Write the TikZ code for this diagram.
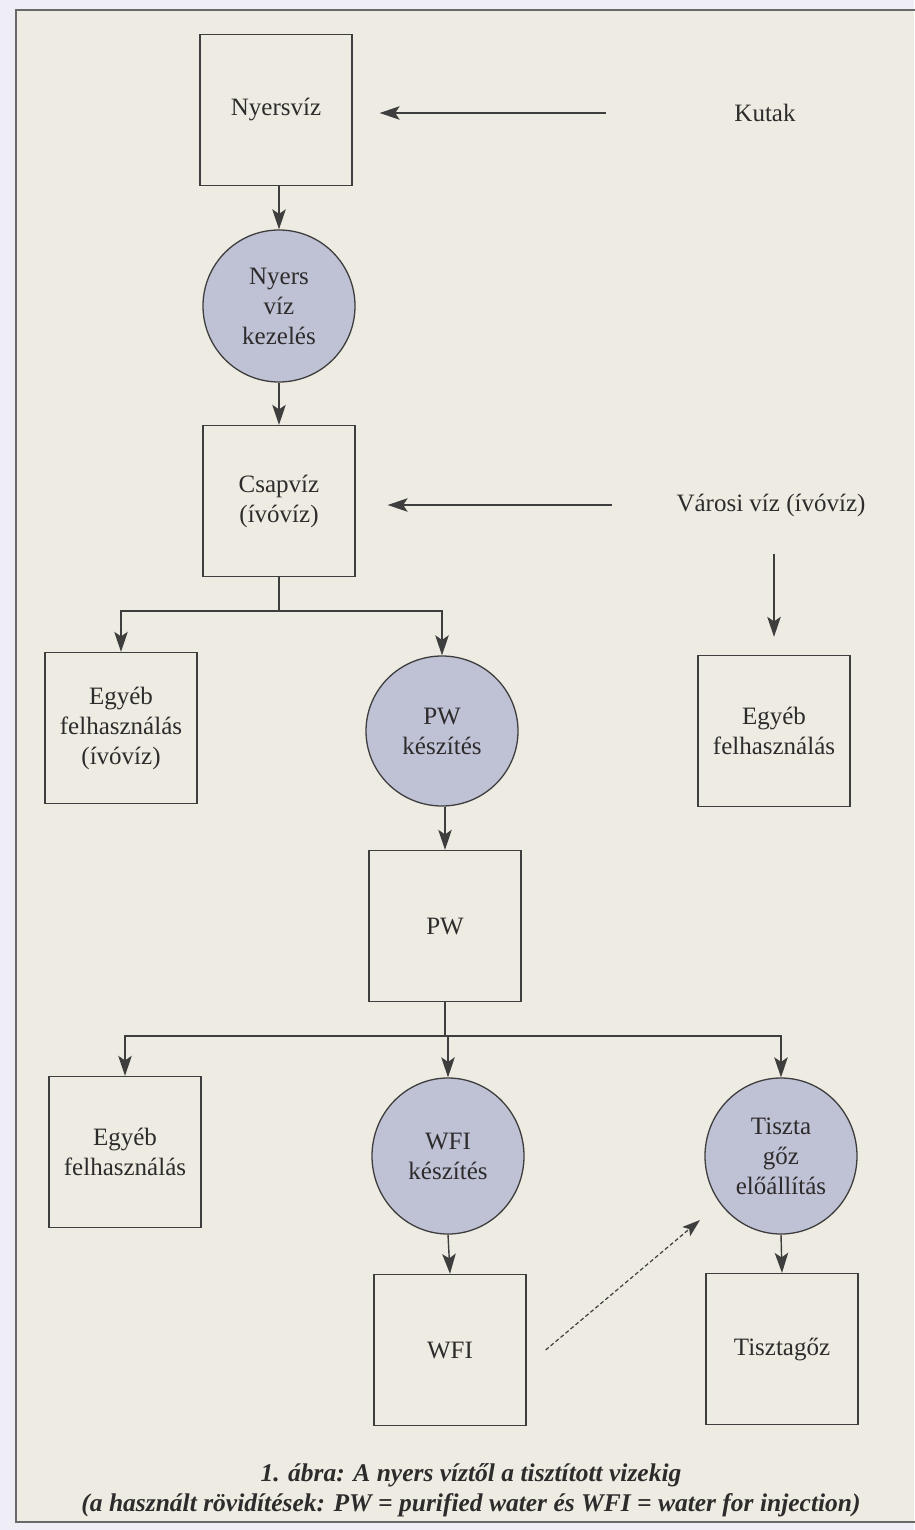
\documentclass[tikz,border=0pt]{standalone}
\usepackage{fontspec}
\setmainfont{Liberation Serif}
\usetikzlibrary{arrows.meta,shapes.geometric}
\definecolor{paper}{RGB}{238,236,226}
\definecolor{margin}{RGB}{239,238,246}
\definecolor{ink}{RGB}{62,62,62}
\definecolor{type}{RGB}{45,43,43}
\definecolor{disc}{RGB}{191,193,213}
\definecolor{rule}{RGB}{105,105,105}

\begin{document}
\begin{tikzpicture}[x=1pt,y=-1pt,
  every node/.style={font=\fontsize{25}{30}\selectfont, text=type},
  box/.style={draw=ink, line width=1.3pt, minimum width=152pt, minimum height=151pt,
    align=center, inner sep=0pt},
  proc/.style={ellipse, draw=ink, line width=1.3pt, fill=disc, minimum width=152pt,
    minimum height=152pt, align=center, inner sep=0pt},
  flow/.style={draw=ink, line width=1.4pt, -{Stealth[length=20pt,width=13.5pt,inset=4.5pt]}},
  link/.style={draw=ink, line width=1.4pt},
  hint/.style={draw=ink, line width=1.2pt, dash pattern=on 4pt off 2.5pt,
    -{Stealth[length=18pt,width=12pt,inset=4pt]}},
]
\useasboundingbox (0,0) rectangle (914,1530);

% page and frame
\fill[margin] (0,0) rectangle (914,1530);
\fill[paper] (16,10) rectangle (914,1522);
\draw[rule, line width=2pt] (930,10) -- (16,10) -- (16,1522) -- (930,1522);

% sources, treatment steps and uses
\node[box] (raw) at (276,110) {Nyersvíz};
\node (wells) at (765,113) {Kutak};
\node[proc] (treat) at (279,306) {Nyers\\víz\\kezelés};
\node[box] (tap) at (279,501) {Csapvíz\\(ívóvíz)};
\node (city) at (771,505) {Városi víz (ívóvíz)};
\node[box] (use1) at (121,728) {Egyéb\\felhasználás\\(ívóvíz)};
\node[proc, minimum height=150pt] (pwmake) at (442,731) {PW\\készítés};
\node[box] (use2) at (774,731) {Egyéb\\felhasználás};
\node[box] (pw) at (445,926) {PW};
\node[box] (use3) at (125,1152) {Egyéb\\felhasználás};
\node[proc, minimum height=156pt] (wfimake) at (448,1156) {WFI\\készítés};
\node[proc, minimum height=156pt] (steam) at (781,1156) {Tiszta\\gőz\\előállítás};
\node[box] (wfi) at (450,1350) {WFI};
\node[box] (puresteam) at (782,1349) {Tisztagőz};

% caption
\node[font=\bfseries\itshape\fontsize{25.5}{30}\selectfont, align=center] (caption)
  at (471,1490) {1. ábra: A nyers víztől a tisztított vizekig\\
  (a használt rövidítések: PW = purified water és WFI = water for injection)};

% connectors
\draw[flow, shorten <=125pt, shorten >=27pt] (wells.west) -- (raw.east |- wells.west);
\draw[flow] (treat.north |- raw.south) -- (treat.north);
\draw[flow] (treat.south) -- (tap.north);
\draw[flow, shorten <=61pt, shorten >=32pt] (city.west) -- (tap.east |- city.west);
\draw[flow, shorten <=34pt, shorten >=18pt] (use2.north |- city.south) -- (use2.north);

\draw[link] (tap.south) -- ++(0,34) coordinate (split1);
\draw[flow] (split1) -| (use1.north);
\draw[flow] (split1) -| (pwmake.north);
\draw[flow] (pw.north |- pwmake.south) -- (pw.north);

\draw[link] (pw.south) -- ++(0,34) coordinate (split2);
\draw[flow] (split2) -| (use3.north);
\draw[flow] (split2) -| (wfimake.north);
\draw[flow] (split2) -| (steam.north);
\draw[flow] (wfimake.south) -- (wfi.north);
\draw[flow] (steam.south) -- (puresteam.north);

\coordinate (steamin) at (700,1220);
\draw[hint] ([xshift=19pt]wfi.east) -- (steamin);
\end{tikzpicture}
\end{document}
